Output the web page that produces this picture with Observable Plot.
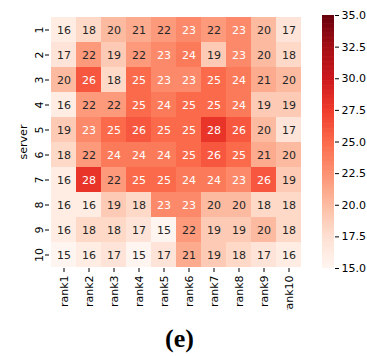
<!DOCTYPE html>
<html><head><meta charset="utf-8">
<script src="https://cdn.jsdelivr.net/npm/d3@7"></script>
<script src="https://cdn.jsdelivr.net/npm/@observablehq/plot@0.6"></script>
<style>
body{margin:0;background:#fff;}
#wrap{position:relative;width:367px;height:356px;overflow:hidden;font-family:"DejaVu Sans",sans-serif;}
#main{position:absolute;left:0;top:0;}
#cbar{position:absolute;left:310px;top:0;}
#title{position:absolute;left:0;width:359px;top:324px;line-height:30px;text-align:center;font-family:"Liberation Serif",serif;font-weight:bold;font-size:26px;color:#000;}
</style></head><body>
<div id="wrap"><div id="main"></div><div id="cbar"></div><div id="title">(e)</div></div>
<script>
const servers = ["1","2","3","4","5","6","7","8","9","10"];
const ranks = ["rank1","rank2","rank3","rank4","rank5","rank6","rank7","rank8","rank9","rank10"];
const row1  = [16,18,20,21,22,23,22,23,20,17];
const row2  = [17,22,19,22,23,24,19,23,20,18];
const row3  = [20,26,18,25,23,23,25,24,21,20];
const row4  = [16,22,22,25,24,25,25,24,19,19];
const row5  = [19,23,25,26,25,25,28,26,20,17];
const row6  = [18,22,24,24,24,25,26,25,21,20];
const row7  = [16,28,22,25,25,24,24,23,26,19];
const row8  = [16,16,19,18,23,23,20,20,18,18];
const row9  = [16,18,18,17,15,22,19,19,20,18];
const row10 = [15,16,17,15,17,21,19,18,17,16];
const rows = [row1,row2,row3,row4,row5,row6,row7,row8,row9,row10];
const colorTicks = [15,17.5,20,22.5,25,27.5,30,32.5,35];
const vmin = 15, vmax = 35;
const redsColors = ["#fff5f0","#fee0d2","#fcbba1","#fc9272","#fb6a4a","#ef3b2c","#cb181d","#a50f15","#67000d"];

const data = [];
servers.forEach((s,i)=>ranks.forEach((r,j)=>data.push({server:s, rank:r, value:rows[i][j]})));

const colorOpt = {type:"linear", domain: redsColors.map((c,i)=>vmin+i*(vmax-vmin)/8), range: redsColors, interpolate:"rgb"};

const main = Plot.plot({
  width: 303, height: 310,
  marginLeft: 49, marginRight: 1, marginTop: 15, marginBottom: 42,
  style:{fontFamily:"DejaVu Sans", fontSize:"11px", color:"#000", background:"#fff", overflow:"hidden"},
  x:{domain:ranks, padding:0},
  y:{domain:servers, padding:0},
  color: colorOpt,
  marks:[
    Plot.cell(data,{x:"rank", y:"server", fill:"value", inset:0, shapeRendering:"crispEdges"}),
    Plot.text(data.filter(d=>d.value>=23),{x:"rank", y:"server", text:d=>String(d.value), fill:"#ffffff", fontSize:11}),
    Plot.text(data.filter(d=>d.value<23),{x:"rank", y:"server", text:d=>String(d.value), fill:"#262626", fontSize:11}),
    Plot.axisX({tickRotate:-90, tickSize:4, tickPadding:3, label:null, fontSize:11}),
    Plot.axisY({tickRotate:-90, tickSize:4, tickPadding:3, label:"server", labelAnchor:"center", labelOffset:30, fontSize:11})
  ]
});
document.getElementById("main").appendChild(main);

const grad = d3.range(vmin, vmax, 0.1).map(v=>({v0:v, v1:Math.min(vmax, v+0.15)}));
const cbar = Plot.plot({
  width: 57, height: 310,
  marginLeft: 12, marginRight: 33, marginTop: 15, marginBottom: 42,
  style:{fontFamily:"DejaVu Sans", fontSize:"11px", color:"#000", background:"transparent", overflow:"visible"},
  x:{domain:[0,1], axis:null},
  y:{domain:[vmin,vmax]},
  color: colorOpt,
  marks:[
    Plot.rect(grad,{x1:0, x2:1, y1:"v0", y2:"v1", fill:d=>d.v0+0.05}),
    Plot.axisY({anchor:"right", ticks:colorTicks, tickFormat:d=>d.toFixed(1), tickSize:4, tickPadding:3, label:null, fontSize:11})
  ]
});
document.getElementById("cbar").appendChild(cbar);
</script>
</body></html>
